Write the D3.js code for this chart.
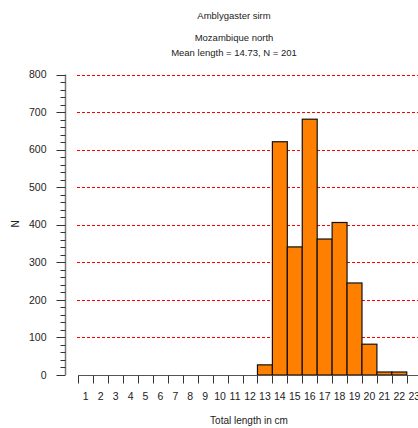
<!DOCTYPE html>
<html>
<head>
<meta charset="utf-8">
<script src="https://cdn.jsdelivr.net/npm/d3@7"></script>
<style>
  body { margin: 0; background: #fff; }
  text { font-family: "Liberation Sans", Arial, sans-serif; fill: #222; }
</style>
</head>
<body>
<svg id="chart" width="418" height="428"></svg>
<script>
// length classes (cm) and counts
var lengths = d3.range(1, 24);
var counts  = [0, 0, 0, 0, 0, 0, 0, 0, 0, 0, 0, 0, 27, 621, 341, 681, 362, 406, 245, 82, 8, 8, 0];
var yTicks  = [0, 100, 200, 300, 400, 500, 600, 700, 800];
var titleLines = ['Amblygaster sirm', 'Mozambique north', 'Mean length = 14.73, N = 201'];

var svg = d3.select('#chart');

var x = d3.scaleLinear().domain([0.5, 23.5]).range([78.3, 421.7]);
var y = d3.scaleLinear().domain([0, 800]).range([375, 74.5]);

/**
 * Grid lines
 */
svg.append('g')
  .selectAll('line')
  .data(yTicks.filter(function (d) { return d > 0; }))
  .enter()
  .append('line')
  .attr('x1', 77).attr('x2', 418)
  .attr('y1', function (d) { return Math.round(y(d)) + 0.5; })
  .attr('y2', function (d) { return Math.round(y(d)) + 0.5; })
  .attr('stroke', '#f00')
  .attr('stroke-dasharray', '3,2');

/**
 * Bars
 */
svg.append('g')
  .selectAll('rect')
  .data(lengths.map(function (l, i) { return { len: l, n: counts[i] }; })
    .filter(function (d) { return d.n > 0; }))
  .enter()
  .append('rect')
  .attr('x', function (d) { return x(d.len - 0.5); })
  .attr('width', function (d) { return x(d.len + 0.5) - x(d.len - 0.5); })
  .attr('y', function (d) { return y(d.n); })
  .attr('height', function (d) { return y(0) - y(d.n); })
  .attr('fill', '#ff8000')
  .attr('stroke', '#111')
  .attr('stroke-width', 1.2);

/**
 * Y axis
 */
var yAxis = svg.append('g').attr('transform', 'translate(65.5,0)');
yAxis.append('line')
  .attr('y1', y(800)).attr('y2', y(0))
  .attr('stroke', '#777').attr('stroke-width', 1.5);
yAxis.selectAll('line.minor')
  .data(d3.range(0, 801, 20).filter(function (d) { return d % 100 !== 0; }))
  .enter()
  .append('line')
  .attr('class', 'minor')
  .attr('x1', -5).attr('x2', 0)
  .attr('y1', function (d) { return Math.round(y(d)) + 0.5; })
  .attr('y2', function (d) { return Math.round(y(d)) + 0.5; })
  .attr('stroke', '#333');
yAxis.selectAll('line.major')
  .data(yTicks)
  .enter()
  .append('line')
  .attr('class', 'major')
  .attr('x1', -9).attr('x2', 0)
  .attr('y1', function (d) { return Math.round(y(d)) + 0.5; })
  .attr('y2', function (d) { return Math.round(y(d)) + 0.5; })
  .attr('stroke', '#333');
yAxis.selectAll('text')
  .data(yTicks)
  .enter()
  .append('text')
  .attr('x', -19)
  .attr('y', function (d) { return y(d); })
  .attr('dy', '0.35em')
  .attr('text-anchor', 'end')
  .style('font-size', '10.5px')
  .text(function (d) { return d; });

/**
 * X axis
 */
var xAxis = svg.append('g').attr('transform', 'translate(0,375.5)');
xAxis.append('line')
  .attr('x1', x(0.5)).attr('x2', 418)
  .attr('stroke', '#555').attr('stroke-width', 1.2);
xAxis.selectAll('line.tick')
  .data(lengths.slice(0, 23))
  .enter()
  .append('line')
  .attr('class', 'tick')
  .attr('x1', function (d) { return Math.round(x(d - 0.5)) + 0.5; })
  .attr('x2', function (d) { return Math.round(x(d - 0.5)) + 0.5; })
  .attr('y1', 0).attr('y2', 8)
  .attr('stroke', '#333');
xAxis.selectAll('text')
  .data(lengths)
  .enter()
  .append('text')
  .attr('x', function (d) { return x(d); })
  .attr('y', 24)
  .attr('text-anchor', 'middle')
  .style('font-size', '10.5px')
  .text(function (d) { return d; });

// axis titles
svg.append('text')
  .attr('x', 249).attr('y', 424)
  .attr('text-anchor', 'middle')
  .style('font-size', '10px')
  .text('Total length in cm');

svg.append('text')
  .attr('transform', 'translate(19,224) rotate(-90)')
  .attr('text-anchor', 'middle')
  .style('font-size', '10px')
  .text('N');

// titles
svg.append('g')
  .selectAll('text')
  .data(titleLines)
  .enter()
  .append('text')
  .attr('x', 234)
  .attr('y', function (d, i) { return [19, 41, 56][i]; })
  .attr('text-anchor', 'middle')
  .style('font-size', '9.5px')
  .text(function (d) { return d; });
</script>
</body>
</html>
